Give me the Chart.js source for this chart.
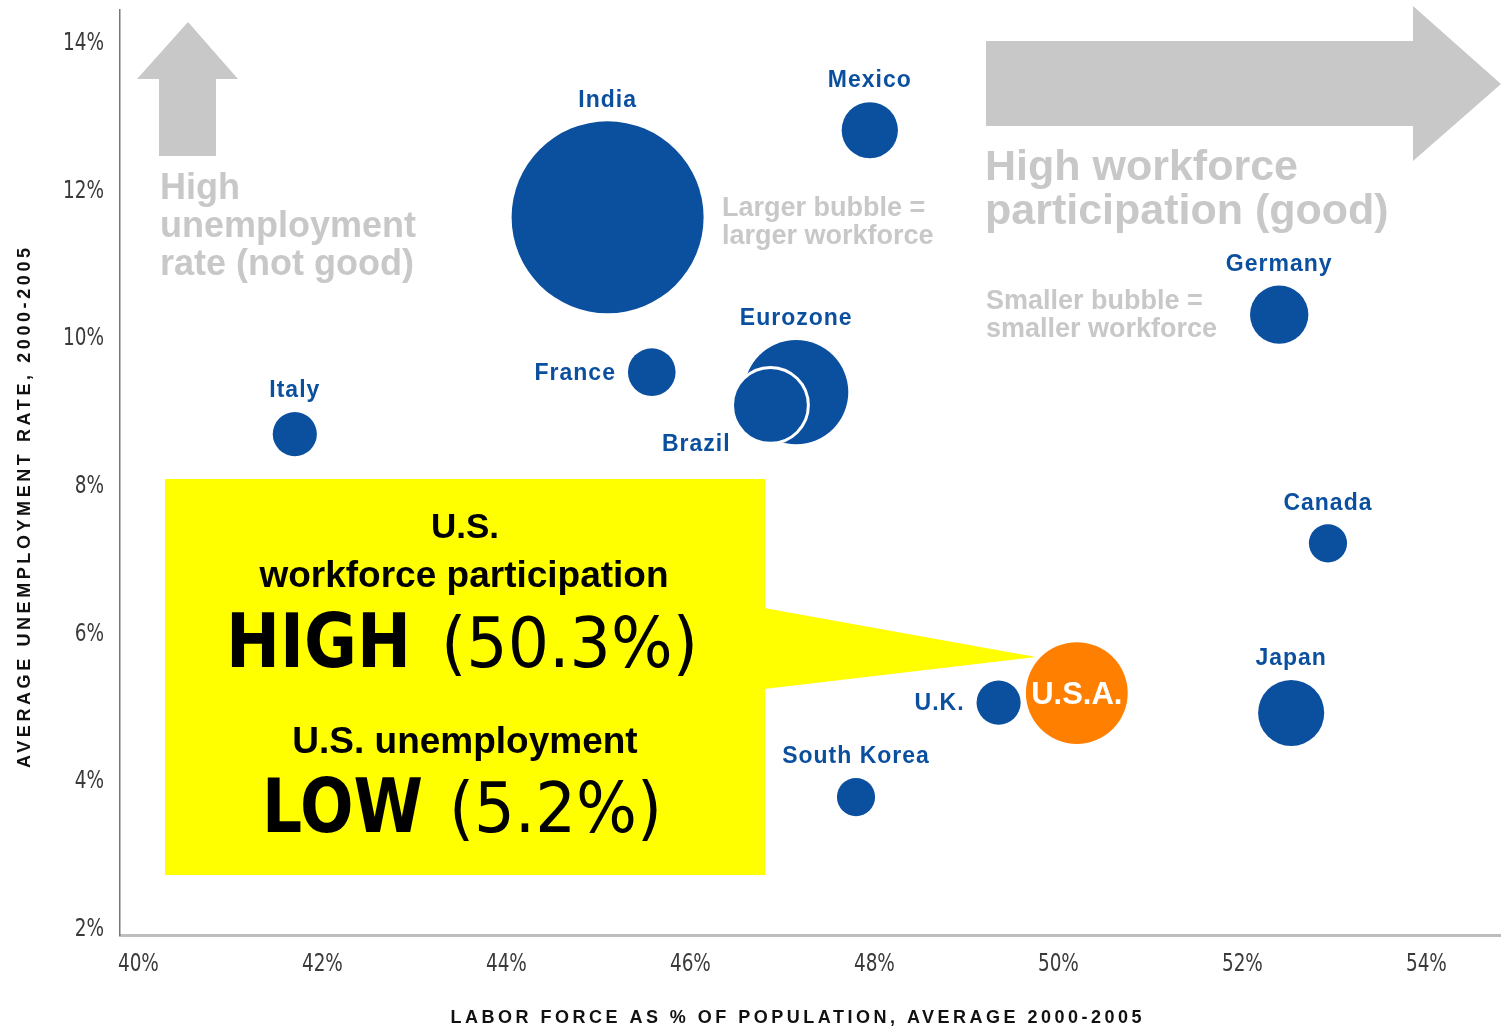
<!DOCTYPE html>
<html>
<head>
<meta charset="utf-8">
<script src="https://cdn.jsdelivr.net/npm/chart.js@4.4.1/dist/chart.umd.min.js"></script>
<style>
  html, body { margin: 0; padding: 0; background: #fff; }
  #wrap { width: 1506px; height: 1033px; }
</style>
</head>
<body>
<div id="wrap"><canvas id="chart1" width="1506" height="1033"></canvas></div>
<script>
const countries = ["India", "Mexico", "Germany", "France", "Eurozone", "Brazil", "Italy", "Canada", "U.K.", "Japan", "South Korea", "U.S.A."];
const laborForcePct = [45.1, 47.95, 52.4, 45.58, 47.15, 46.87, 41.7, 52.93, 49.35, 52.53, 47.8, 50.2];
const unemploymentPct = [11.65, 12.83, 10.33, 9.55, 9.28, 9.1, 8.71, 7.23, 5.07, 4.93, 3.79, 5.2];
// workforce size in millions
const workforceMillions = [455, 39, 42, 28, 134, 71, 24, 18, 24, 54, 18, 128];
const labelSide = ["top", "top", "top", "left", "top", "belowLeft", "top", "top", "left", "top", "top", "inside"];

const xTicks = [40, 42, 44, 46, 48, 50, 52, 54];
const yTicks = [2, 4, 6, 8, 10, 12, 14];

const BLUE = "#0b4f9f";
const ORANGE = "#ff7f00";
const GREY = "#c8c8c8";
const bubbleScale = 4.5;
const tickFont = "25px 'DejaVu Sans Condensed', 'DejaVu Sans', sans-serif";

const points = countries.map((c, i) => ({
    x: laborForcePct[i],
    y: unemploymentPct[i],
    r: Math.sqrt(workforceMillions[i]) * bubbleScale,
}));

// draw text squeezed horizontally by a factor
const drawSqueezed = (ctx, text, x, y, sx, align) => {
    const w = ctx.measureText(text).width * sx;
    ctx.save();
    const left = align === "right" ? x - w : align === "center" ? x - w / 2 : x;
    ctx.translate(left, y);
    ctx.scale(sx, 1);
    ctx.textAlign = "left";
    ctx.fillText(text, 0, 0);
    ctx.restore();
};

// draw text squeezed/stretched to a given width
const drawFit = (ctx, text, left, baseline, width) => {
    const w = ctx.measureText(text).width;
    ctx.save();
    ctx.translate(left, baseline);
    ctx.scale(width / w, 1);
    ctx.textAlign = "left";
    ctx.textBaseline = "alphabetic";
    ctx.fillText(text, 0, 0);
    ctx.restore();
};

// spread letters so the text covers a given length
const drawSpread = (ctx, text, cx, cy, length, angle) => {
    ctx.save();
    ctx.letterSpacing = "0px";
    const w = ctx.measureText(text).width;
    const sp = (length - w) / (text.length - 1);
    ctx.letterSpacing = sp + "px";
    ctx.translate(cx, cy);
    ctx.rotate(angle);
    ctx.textAlign = "left";
    ctx.textBaseline = "middle";
    ctx.fillText(text, -length / 2, 0);
    ctx.restore();
};

const backdrop = {
    id: "backdrop",
    beforeDatasetsDraw(chart) {
        const ctx = chart.ctx;
        ctx.save();
        ctx.fillStyle = GREY;

        // up arrow
        ctx.beginPath();
        ctx.moveTo(188, 22);
        ctx.lineTo(238, 79);
        ctx.lineTo(216, 79);
        ctx.lineTo(216, 156);
        ctx.lineTo(159, 156);
        ctx.lineTo(159, 79);
        ctx.lineTo(137, 79);
        ctx.closePath();
        ctx.fill();

        // right arrow
        ctx.beginPath();
        ctx.moveTo(986, 41);
        ctx.lineTo(1413, 41);
        ctx.lineTo(1413, 6);
        ctx.lineTo(1501, 84);
        ctx.lineTo(1413, 161);
        ctx.lineTo(1413, 126);
        ctx.lineTo(986, 126);
        ctx.closePath();
        ctx.fill();

        ctx.textBaseline = "middle";
        ctx.textAlign = "left";
        ctx.font = "bold 36px 'Liberation Sans', Arial, sans-serif";
        ["High", "unemployment", "rate (not good)"].forEach((t, i) => ctx.fillText(t, 160, 189 + i * 38));

        ctx.font = "bold 43px 'Liberation Sans', Arial, sans-serif";
        ["High workforce", "participation (good)"].forEach((t, i) => ctx.fillText(t, 985, 168 + i * 44));

        ctx.font = "bold 27px 'Liberation Sans', Arial, sans-serif";
        ["Larger bubble =", "larger workforce"].forEach((t, i) => ctx.fillText(t, 722, 209 + i * 28));
        ["Smaller bubble =", "smaller workforce"].forEach((t, i) => ctx.fillText(t, 986, 302 + i * 28));

        // yellow callout pointing at the U.S.A. bubble
        const meta = chart.getDatasetMeta(0);
        const usa = meta.data[countries.indexOf("U.S.A.")];
        const tipX = usa.x - usa.options.radius + 10;
        const tipY = usa.y - 36;
        ctx.fillStyle = "#ffff00";
        ctx.fillRect(165, 479, 600, 396);
        ctx.beginPath();
        ctx.moveTo(764, 608);
        ctx.lineTo(tipX, tipY);
        ctx.lineTo(764, 689);
        ctx.closePath();
        ctx.fill();

        ctx.fillStyle = "#000";
        ctx.textAlign = "center";
        ctx.textBaseline = "alphabetic";
        ctx.font = "bold 35px 'Liberation Sans', Arial, sans-serif";
        ctx.fillText("U.S.", 465, 538);
        ctx.font = "bold 37px 'Liberation Sans', Arial, sans-serif";
        ctx.fillText("workforce participation", 464, 587);
        ctx.fillText("U.S. unemployment", 465, 753);

        ctx.font = "bold 75px 'DejaVu Sans', sans-serif";
        drawFit(ctx, "HIGH", 226, 667, 185);
        drawFit(ctx, "LOW", 262, 832, 161);
        ctx.font = "69px 'DejaVu Sans Condensed', 'DejaVu Sans', sans-serif";
        drawFit(ctx, "(50.3%)", 441, 667, 257);
        drawFit(ctx, "(5.2%)", 449, 832, 213);

        ctx.restore();
    },
    afterDatasetsDraw(chart) {
        const ctx = chart.ctx;
        const meta = chart.getDatasetMeta(0);
        ctx.save();
        ctx.letterSpacing = "1px";
        meta.data.forEach((el, i) => {
            const r = el.options.radius;
            const side = labelSide[i];
            ctx.fillStyle = BLUE;
            ctx.font = "bold 23px 'Liberation Sans', Arial, sans-serif";
            ctx.textBaseline = "middle";
            if (side === "top") {
                ctx.textAlign = "center";
                ctx.fillText(countries[i], el.x, el.y - r - 21);
            } else if (side === "left") {
                ctx.textAlign = "right";
                ctx.fillText(countries[i], el.x - r - 12, el.y + 1);
            } else if (side === "belowLeft") {
                ctx.textAlign = "right";
                ctx.fillText(countries[i], el.x - r - 2, el.y + r + 1);
            } else {
                ctx.fillStyle = "#fff";
                ctx.letterSpacing = "0px";
                ctx.font = "bold 31px 'Liberation Sans', Arial, sans-serif";
                ctx.textAlign = "center";
                ctx.fillText(countries[i], el.x, el.y + 2);
                ctx.letterSpacing = "1px";
            }
        });
        ctx.letterSpacing = "0px";

        // tick labels, in a condensed face
        const { x, y } = chart.scales;
        ctx.fillStyle = "#3a3a3a";
        ctx.font = tickFont;
        ctx.textBaseline = "middle";
        xTicks.forEach((v) => drawSqueezed(ctx, v + "%", x.getPixelForValue(v), x.top + 29, 0.82, "center"));
        yTicks.forEach((v) => drawSqueezed(ctx, v + "%", y.left + 104, y.getPixelForValue(v), 0.82, "right"));

        // axis titles
        ctx.fillStyle = "#111";
        ctx.font = "bold 18px 'Liberation Sans', Arial, sans-serif";
        drawSpread(ctx, "LABOR FORCE AS % OF POPULATION, AVERAGE 2000-2005", 796, 1018, 691, 0);
        drawSpread(ctx, "AVERAGE UNEMPLOYMENT RATE, 2000-2005", 25, 508, 520, -Math.PI / 2);
        ctx.restore();
    },
};

new Chart(document.getElementById("chart1"), {
    type: "bubble",
    data: {
        datasets: [
            {
                data: points,
                backgroundColor: countries.map((c) => (c === "U.S.A." ? ORANGE : BLUE)),
                borderColor: countries.map((c) => (c === "Brazil" ? "#fff" : BLUE)),
                borderWidth: countries.map((c) => (c === "Brazil" ? 3 : 0)),
                hoverRadius: 0,
                clip: false,
            },
        ],
    },
    options: {
        responsive: false,
        animation: false,
        events: [],
        layout: { autoPadding: false, padding: { top: 10, right: 6, left: 0, bottom: 0 } },
        plugins: {
            legend: { display: false },
            tooltip: { enabled: false },
        },
        scales: {
            x: {
                type: "linear",
                min: 39.8,
                max: 54.8,
                afterBuildTicks: (axis) => {
                    axis.ticks = xTicks.map((v) => ({ value: v }));
                },
                afterFit: (axis) => {
                    axis.height = 98;
                },
                grid: { display: false, drawTicks: false },
                border: { display: true, color: "#bdbdbd", width: 3 },
                ticks: { display: false },
            },
            y: {
                type: "linear",
                min: 1.92,
                max: 14.46,
                afterBuildTicks: (axis) => {
                    axis.ticks = yTicks.map((v) => ({ value: v }));
                },
                afterFit: (axis) => {
                    axis.width = 120;
                },
                grid: { display: false, drawTicks: false },
                border: { display: true, color: "#777", width: 1.5 },
                ticks: { display: false },
            },
        },
    },
    plugins: [backdrop],
});
</script>
</body>
</html>
